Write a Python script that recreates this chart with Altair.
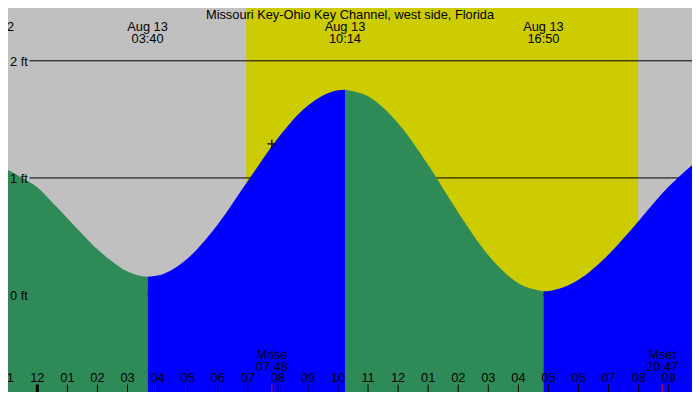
import altair as alt
import pandas as pd

W, H = 684, 384
FONT = "Liberation Sans"
FS = 12.8

TITLE = "Missouri Key-Ohio Key Channel, west side, Florida"

# Visible window, hours from midnight Aug 13
X_MIN, X_MAX = -0.975, 21.775
# Visible height range in feet
Y_MIN, Y_MAX = -0.828, 2.451

# Tide curve samples (hours, feet)
fall1_t = [-1.0, -0.5, 0.0, 0.5, 1.0, 1.5, 2.0, 2.5, 3.0, 3.333, 3.667]
fall1_h = [1.07, 1.00, 0.92, 0.79, 0.655, 0.52, 0.39, 0.285, 0.20, 0.17, 0.156]
rise1_t = [3.667, 4.0, 5.0, 6.0, 7.0, 8.0, 9.0, 10.0, 10.233]
rise1_h = [0.156, 0.166, 0.313, 0.603, 0.974, 1.339, 1.618, 1.749, 1.754]
fall2_t = [10.233, 11.0, 12.0, 13.0, 14.0, 15.0, 16.0, 16.833]
fall2_h = [1.754, 1.697, 1.467, 1.110, 0.704, 0.340, 0.101, 0.033]
rise2_t = [16.833, 17.0, 18.0, 19.0, 20.0, 21.0, 22.0]
rise2_h = [0.033, 0.035, 0.130, 0.346, 0.633, 0.926, 1.158]

# High / low tide labels (the Aug 12 one is cut off at the left edge)
ext_t = [-1.45, 3.667, 10.233, 16.833]
ext_date = ["Aug 12", "Aug 13", "Aug 13", "Aug 13"]
ext_time = ["", "03:40", "10:14", "16:50"]

# Daylight
sun_rise, sun_set = 6.95, 19.983

# Moon
moon_t = [7.8, 20.783]
moon_name = ["Mrise", "Mset"]
moon_time = ["07:48", "20:47"]
marker_t, marker_h = [7.8], [1.29]

# Hour ticks
hour_t = list(range(-1, 22))
hour_lbl = ["11", "12", "01", "02", "03", "04", "05", "06", "07", "08", "09", "10",
            "11", "12", "01", "02", "03", "04", "05", "06", "07", "08", "09"]

# Height levels
lev_ft = [0, 1, 2]
lev_lbl = ["0 ft", "1 ft", "2 ft"]

segs = []
for i, (ts, hs, ph) in enumerate([(fall1_t, fall1_h, "falling"), (rise1_t, rise1_h, "rising"),
                                  (fall2_t, fall2_h, "falling"), (rise2_t, rise2_h, "rising")]):
    segs.append(pd.DataFrame({"t": ts, "h": hs, "seg": i, "phase": ph}))
curve = pd.concat(segs, ignore_index=True)

xs = alt.Scale(domain=[X_MIN, X_MAX], nice=False, zero=False)
ys = alt.Scale(domain=[Y_MIN, Y_MAX], nice=False, zero=False)

def X(f):
    return alt.X(f, scale=xs, axis=None)

def Y(f):
    return alt.Y(f, scale=ys, axis=None)

def txt(**kw):
    base = dict(align="center", baseline="alphabetic", font=FONT, fontSize=FS, color="black")
    base.update(kw)
    return base

day = alt.Chart(pd.DataFrame({"start": [sun_rise], "end": [sun_set]})).mark_rect(
    color="#CCCC00").encode(x=X("start:Q"), x2="end:Q", y=alt.value(0), y2=alt.value(H))

levels = pd.DataFrame({"ft": lev_ft, "label": lev_lbl})
rules = alt.Chart(levels).mark_rule(color="black", strokeWidth=1).encode(
    y=Y("ft:Q"), x=alt.value(21.5), x2=alt.value(W))

area = alt.Chart(curve).mark_area(interpolate="monotone", clip=True, orient="vertical").encode(
    x=X("t:Q"), y=Y("h:Q"), y2=alt.datum(Y_MIN),
    color=alt.Color("phase:N", scale=alt.Scale(domain=["falling", "rising"],
                                               range=["#2E8B57", "#0000FF"]), legend=None),
    detail="seg:N")

lev_text = alt.Chart(levels).mark_text(**txt(align="left", baseline="middle", dy=1)).encode(
    x=alt.value(2), y=Y("ft:Q"), text="label:N")

ext = pd.DataFrame({"t": ext_t, "date": ext_date, "time": ext_time})
ext_d = alt.Chart(ext).mark_text(**txt()).encode(
    x=X("t:Q"), y=alt.value(23.3), text="date:N")
ext_tm = alt.Chart(ext).mark_text(**txt()).encode(
    x=X("t:Q"), y=alt.value(34.6), text="time:N")

title = alt.Chart(pd.DataFrame({"title": [TITLE]})).mark_text(**txt()).encode(
    x=alt.value(W / 2), y=alt.value(10.6), text="title:N")

hours = pd.DataFrame({"t": hour_t, "label": hour_lbl})
hour_ticks = alt.Chart(hours).mark_rule(color="black").encode(
    x=X("t:Q"), y=alt.value(376.5), y2=alt.value(H),
    strokeWidth=alt.condition(alt.datum.t == 0, alt.value(3), alt.value(1)))
hour_text = alt.Chart(hours).mark_text(**txt()).encode(
    x=X("t:Q"), y=alt.value(373.7), text="label:N")

moon = pd.DataFrame({"t": moon_t, "name": moon_name, "time": moon_time})
moon_ticks = alt.Chart(moon).mark_rule(color="red", strokeWidth=1).encode(
    x=X("t:Q"), y=alt.value(376.5), y2=alt.value(H))
moon_n = alt.Chart(moon).mark_text(**txt()).encode(
    x=X("t:Q"), y=alt.value(351.4), text="name:N")
moon_tm = alt.Chart(moon).mark_text(**txt()).encode(
    x=X("t:Q"), y=alt.value(363.2), text="time:N")

marker = alt.Chart(pd.DataFrame({"t": marker_t, "h": marker_h})).mark_point(
    shape="M-1,0H1M0,-1V1", size=81, stroke="black", strokeWidth=1.2, filled=False,
    opacity=1).encode(x=X("t:Q"), y=Y("h:Q"))

chart = alt.layer(day, rules, area, lev_text, ext_d, ext_tm, title, hour_ticks, hour_text,
                  moon_ticks, moon_n, moon_tm, marker).properties(
    width=W, height=H, padding=0, autosize=alt.AutoSizeParams(type="none"),
    background="#C0C0C0").configure_view(stroke=None)

chart.save("out.html", embed_options={"renderer": "svg", "actions": False})
